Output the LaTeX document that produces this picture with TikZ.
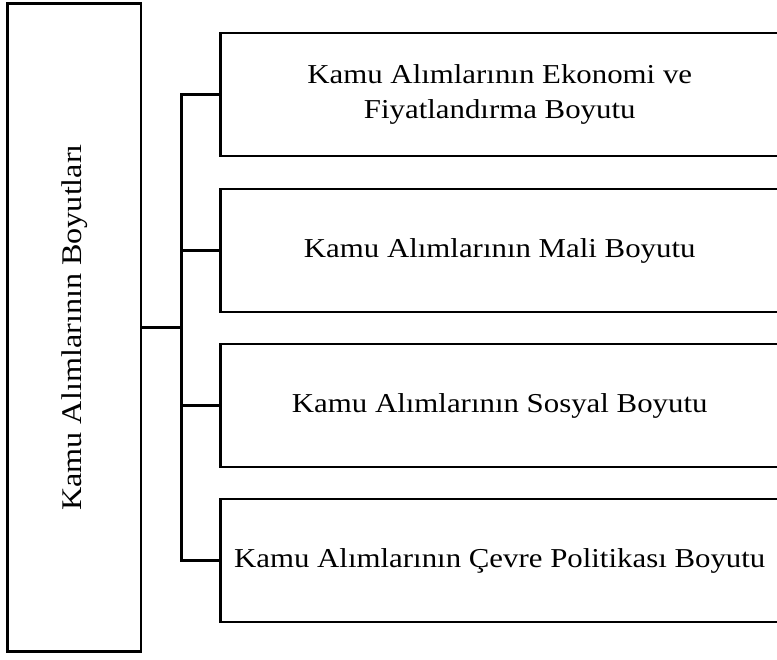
\documentclass[tikz,border=0pt]{standalone}
\usepackage{fontspec}
\setmainfont{Liberation Serif}[FakeStretch=1.13]
\usepackage{tikz}
\usetikzlibrary{positioning}

\begin{document}
\begin{tikzpicture}[
    x=1pt, y=-1pt,
    mainbox/.style={rectangle, draw=black, line width=2.5pt, minimum width=133.5pt, minimum height=648pt, inner sep=0pt},
    dimbox/.style={rectangle, draw=black, line width=2.5pt, minimum width=558.5pt, minimum height=123pt, inner sep=0pt, align=center, font=\fontsize{27.3}{35}\selectfont},
    link/.style={line width=2.5pt}
]
    \useasboundingbox (0,0) rectangle (777,660);

    \node[mainbox] (main) at (74.25,327.5) {};
    \node[rotate=90, font=\fontsize{28.5}{35}\selectfont] (mainlabel) at (main.center) {Kamu Alımlarının Boyutları};

    \node[dimbox] (dim1) at (499.75,94.5) {Kamu Alımlarının Ekonomi ve\\Fiyatlandırma Boyutu};
    \node[dimbox] (dim2) at (499.75,250.5) {Kamu Alımlarının Mali Boyutu};
    \node[dimbox] (dim3) at (499.75,405.5) {Kamu Alımlarının Sosyal Boyutu};
    \node[dimbox] (dim4) at (499.75,560.5) {Kamu Alımlarının Çevre Politikası Boyutu};

    \coordinate (bus) at (181.5,327.5);

    \draw[link] (main) -- (bus);
    \draw[link] (dim1.west) -| (bus) |- (dim4.west);
    \foreach \i in {2,3}
        \draw[link] (dim\i.west) -- (dim\i.west -| bus);
\end{tikzpicture}
\end{document}
